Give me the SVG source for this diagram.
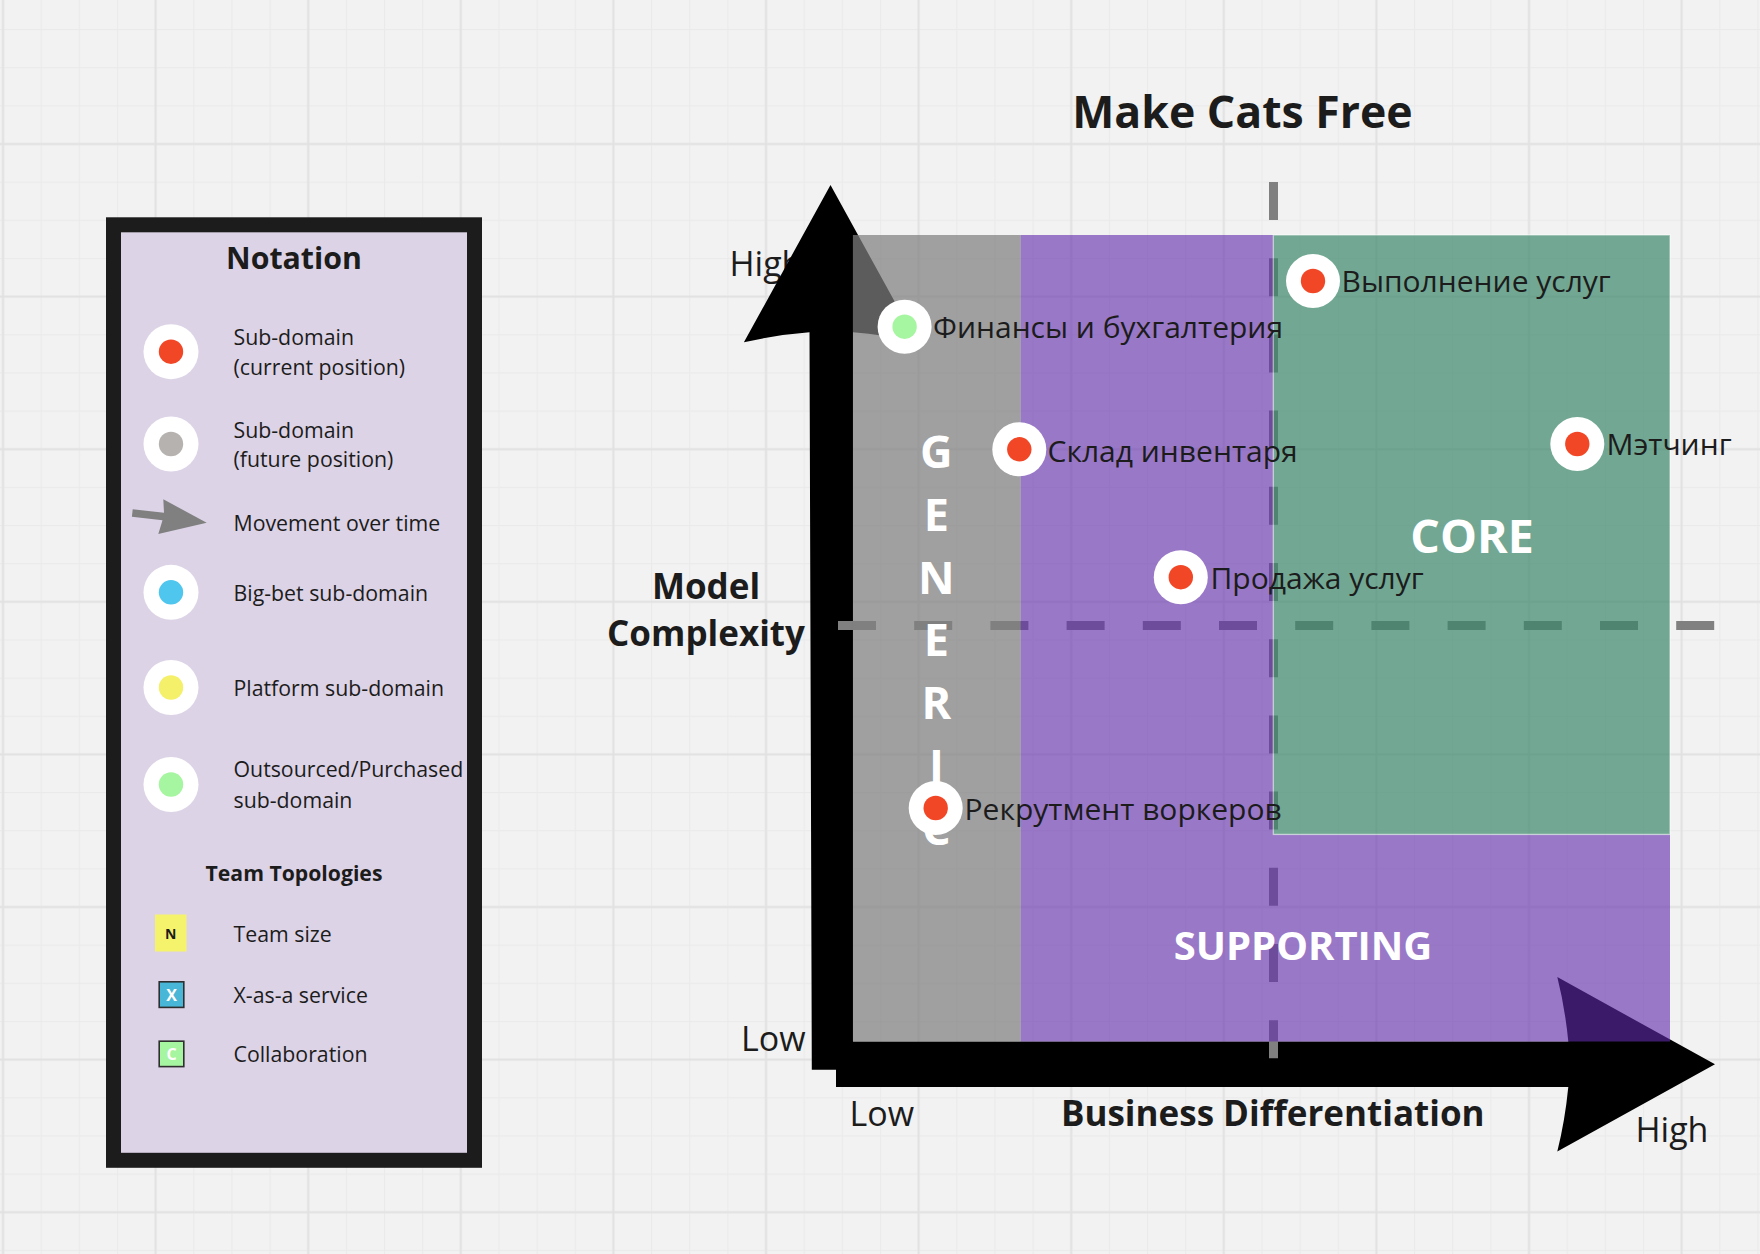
<svg xmlns="http://www.w3.org/2000/svg" width="1760" height="1254" viewBox="0 0 1760 1254">
  <defs>
    <pattern id="gridMinor" patternUnits="userSpaceOnUse" x="-16.1" y="-27.7" width="38.15" height="38.15">
      <rect x="18.5" y="0" width="1.2" height="38.15" fill="#eaeaea"/>
      <rect x="0" y="18.5" width="38.15" height="1.2" fill="#eaeaea"/>
    </pattern>
    <pattern id="gridMajor" patternUnits="userSpaceOnUse" x="-73.3" y="-84.9" width="152.6" height="152.6">
      <rect x="75.3" y="0" width="2" height="152.6" fill="#e1e1e1"/>
      <rect x="0" y="75.3" width="152.6" height="2" fill="#e1e1e1"/>
    </pattern>
    <style>
      .txt { font-family: "Open Sans", "Liberation Sans", sans-serif; fill: #1c1c1c; }
      .bold { font-weight: 700; }
      .legend { font-size: 21.3px; }
      .axis { font-size: 34px; }
      .label { font-size: 30px; }
      .zone { font-family: "Open Sans", "Liberation Sans", sans-serif; font-weight: 700; fill: #ffffff; }
      .ring { fill: #ffffff; }
      .red { fill: #f24726; }
      .grey { fill: #b5b2b0; }
      .blue { fill: #4fc6ee; }
      .yellow { fill: #f5f06a; }
      .green { fill: #a6f5a0; }
      .dash { stroke: #808080; stroke-width: 9; fill: none; stroke-dasharray: 38 38.2; }
    </style>
  </defs>

  <!-- board background with grid -->
  <rect width="1760" height="1254" fill="#f2f2f2"/>
  <rect width="1760" height="1254" fill="url(#gridMinor)"/>
  <rect width="1760" height="1254" fill="url(#gridMajor)"/>

  <!-- legend panel -->
  <g id="legend">
    <rect x="113.5" y="224.8" width="361" height="935.5" fill="#dcd3e6" stroke="#1c1c1c" stroke-width="15"/>
    <text class="txt bold" x="294" y="269" font-size="30.3" text-anchor="middle">Notation</text>

    <g id="legend-current">
      <circle class="ring" cx="171" cy="351.7" r="27.5"/>
      <circle class="red" cx="171" cy="351.7" r="12.2"/>
      <text class="txt legend" x="233.5" y="345">Sub-domain</text>
      <text class="txt legend" x="233.5" y="375">(current position)</text>
    </g>
    <g id="legend-future">
      <circle class="ring" cx="171" cy="444" r="27.5"/>
      <circle class="grey" cx="171" cy="444" r="12.2"/>
      <text class="txt legend" x="233.5" y="437.5">Sub-domain</text>
      <text class="txt legend" x="233.5" y="467">(future position)</text>
    </g>
    <g id="legend-movement">
      <path d="M132.7 509.3 L164 512.8 L163.3 499.3 L206.7 522.7 L158.3 534 L162.5 520.2 L131.9 516.7 Z" fill="#808080"/>
      <text class="txt legend" x="233.5" y="531">Movement over time</text>
    </g>
    <g id="legend-bigbet">
      <circle class="ring" cx="171" cy="592.3" r="27.5"/>
      <circle class="blue" cx="171" cy="592.3" r="12.2"/>
      <text class="txt legend" x="233.5" y="600.5">Big-bet sub-domain</text>
    </g>
    <g id="legend-platform">
      <circle class="ring" cx="171" cy="687.5" r="27.5"/>
      <circle class="yellow" cx="171" cy="687.5" r="12.2"/>
      <text class="txt legend" x="233.5" y="695.5">Platform sub-domain</text>
    </g>
    <g id="legend-outsourced">
      <circle class="ring" cx="171" cy="784.5" r="27.5"/>
      <circle class="green" cx="171" cy="784.5" r="12.2"/>
      <text class="txt legend" x="233.5" y="777">Outsourced/Purchased</text>
      <text class="txt legend" x="233.5" y="808">sub-domain</text>
    </g>

    <text class="txt bold" x="294" y="881" font-size="21.2" text-anchor="middle">Team Topologies</text>

    <g id="legend-team-size">
      <rect x="155" y="914.5" width="31.5" height="37" fill="#f5f36b"/>
      <text class="txt bold" x="170.8" y="938.5" font-size="14" text-anchor="middle">N</text>
      <text class="txt legend" x="233.5" y="942">Team size</text>
    </g>
    <g id="legend-xaas">
      <rect x="159.2" y="981.8" width="24.6" height="25.6" fill="#48b6d6" stroke="#2f2f2f" stroke-width="1.6"/>
      <text class="bold" x="171.5" y="1000.5" font-size="16" text-anchor="middle" fill="#ffffff" font-family="Open Sans, Liberation Sans, sans-serif">X</text>
      <text class="txt legend" x="233.5" y="1003">X-as-a service</text>
    </g>
    <g id="legend-collab">
      <rect x="159.2" y="1041.2" width="24.6" height="25.4" fill="#a6f5a0" stroke="#2f2f2f" stroke-width="1.6"/>
      <text class="bold" x="171.5" y="1060" font-size="16" text-anchor="middle" fill="#ffffff" font-family="Open Sans, Liberation Sans, sans-serif">C</text>
      <text class="txt legend" x="233.5" y="1061.5">Collaboration</text>
    </g>
  </g>

  <!-- title and axis captions -->
  <text class="txt bold" x="1242.5" y="128" font-size="44.6" text-anchor="middle">Make Cats Free</text>
  <text class="txt axis" x="729.5" y="276">High</text>
  <text class="txt axis" x="741" y="1051">Low</text>
  <text class="txt axis" x="849.5" y="1126">Low</text>
  <text class="txt axis" x="1635.5" y="1141.5">High</text>
  <text class="txt bold" x="1272.8" y="1126" font-size="35" text-anchor="middle">Business Differentiation</text>
  <text class="txt bold" font-size="35" text-anchor="middle"><tspan x="706" y="599.4">Model</tspan><tspan x="706" y="645.5">Complexity</tspan></text>

  <!-- axes, guide lines and zones -->
  <g id="connectors">
    <path id="axis-y" d="M830.5 185 L917.1 342.3 Q883.5 334.6 853 332.3 L853 1069.8 L811.8 1069.8 L809.5 332.3 Q778 334.6 743.9 342.3 Z" fill="#000000"/>
    <path id="axis-x" d="M836 1041.4 L1568.3 1041.4 Q1565 1007.8 1557.3 977.1 L1715 1064.3 L1557.3 1151.4 Q1565 1120.8 1568.3 1087 L836 1087 Z" fill="#000000"/>
    <line id="split-x" class="dash" x1="838" y1="625.6" x2="1714.5" y2="625.6"/>
    <line id="split-y" class="dash" x1="1273.5" y1="182" x2="1273.5" y2="1059.5"/>
  </g>

  <g id="zones">
    <rect id="zone-generic" x="852.9" y="235" width="167.8" height="806.4" fill="#808080" fill-opacity="0.72"/>
    <path id="zone-supporting" d="M1020.7 235 H1273.3 V834.4 H1670 V1041.4 H1020.7 Z" fill="#622aad" fill-opacity="0.61"/>
    <rect id="zone-core" x="1273.3" y="235" width="396.7" height="599.4" fill="#398769" fill-opacity="0.69" stroke="#ffffff" stroke-opacity="0.45" stroke-width="1.4"/>
    <text class="zone" font-size="45" text-anchor="middle"><tspan x="936.4" y="468">G</tspan><tspan x="936.4" y="530.8">E</tspan><tspan x="936.4" y="593.6">N</tspan><tspan x="936.4" y="656.4">E</tspan><tspan x="936.4" y="719.2">R</tspan><tspan x="936.4" y="782">I</tspan><tspan x="936.4" y="844.8">C</tspan></text>
    <text class="zone" x="1472" y="552.7" font-size="46.5" text-anchor="middle">CORE</text>
    <text class="zone" x="1303" y="960" font-size="40" text-anchor="middle">SUPPORTING</text>
  </g>

  <!-- sub-domains -->
  <g id="node-finance">
    <circle class="ring" cx="904.6" cy="326.7" r="27"/>
    <circle class="green" cx="904.6" cy="326.7" r="12.2"/>
    <text class="txt label" x="933" y="338.3">Финансы и бухгалтерия</text>
  </g>
  <g id="node-warehouse">
    <circle class="ring" cx="1019.3" cy="449.3" r="27"/>
    <circle class="red" cx="1019.3" cy="449.3" r="12.2"/>
    <text class="txt label" x="1047.5" y="461.5">Склад инвентаря</text>
  </g>
  <g id="node-sales">
    <circle class="ring" cx="1180.8" cy="577.2" r="27"/>
    <circle class="red" cx="1180.8" cy="577.2" r="12.2"/>
    <text class="txt label" x="1210.5" y="588.8">Продажа услуг</text>
  </g>
  <g id="node-fulfilment">
    <circle class="ring" cx="1313" cy="281" r="27"/>
    <circle class="red" cx="1313" cy="281" r="12.2"/>
    <text class="txt label" x="1341.5" y="291.8">Выполнение услуг</text>
  </g>
  <g id="node-matching">
    <circle class="ring" cx="1577.3" cy="444" r="27"/>
    <circle class="red" cx="1577.3" cy="444" r="12.2"/>
    <text class="txt label" x="1606.5" y="455">Мэтчинг</text>
  </g>
  <g id="node-recruitment">
    <circle class="ring" cx="935.7" cy="808" r="27"/>
    <circle class="red" cx="935.7" cy="808" r="12.2"/>
    <text class="txt label" x="964.5" y="820.2">Рекрутмент воркеров</text>
  </g>
</svg>
